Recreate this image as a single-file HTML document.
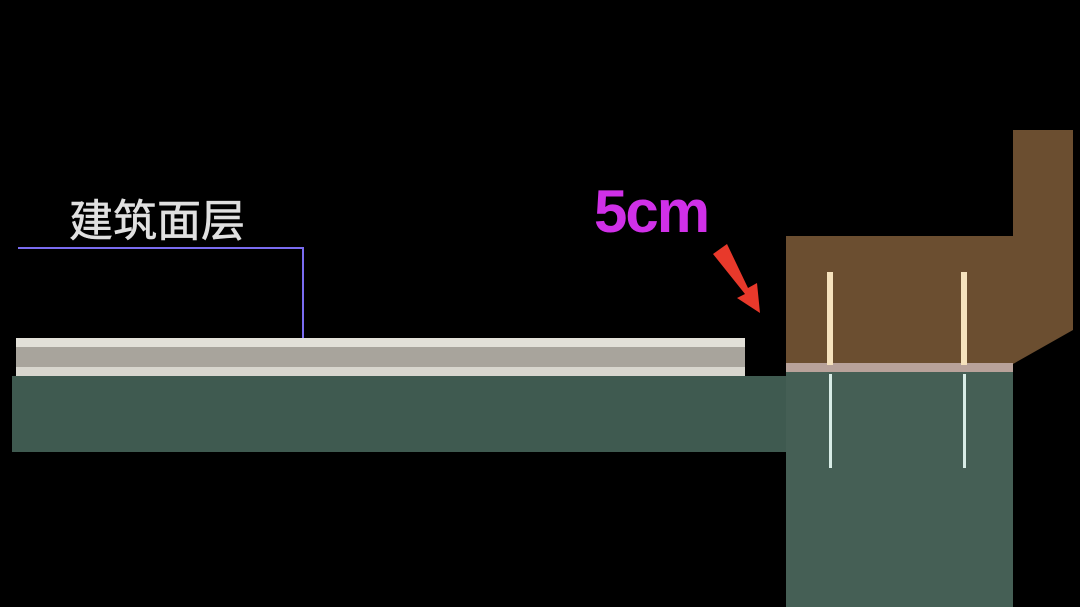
<!DOCTYPE html>
<html><head><meta charset="utf-8"><style>
body{margin:0;width:1080px;height:607px;background:#000;overflow:hidden;position:relative}
</style></head><body>
<svg width="1080" height="607" style="position:absolute;left:0;top:0">
<rect x="12" y="376" width="776" height="76" fill="#3f5a50"/>
<rect x="786" y="368" width="227" height="239" fill="#455f55"/>
<polygon points="786,236 1013,236 1013,130 1073,130 1073,330 1013,364 786,364" fill="#6b4e30"/>
<rect x="786" y="363" width="227" height="9" fill="#b8a29a"/>
<rect x="16" y="338" width="729" height="38" fill="#a8a49c"/>
<rect x="16" y="338" width="729" height="9" fill="#e2e0d8"/>
<rect x="16" y="367" width="729" height="9" fill="#d8d6ce"/>
<rect x="827" y="272" width="6" height="93" fill="#f6e2bd"/>
<rect x="961" y="272" width="6" height="93" fill="#f6e2bd"/>
<rect x="829" y="374" width="3" height="94" fill="#d8ece6"/>
<rect x="963" y="374" width="3" height="94" fill="#d8ece6"/>
<polyline points="18,248 303,248 303,338" fill="none" stroke="#7a6cf0" stroke-width="2"/>
<polygon points="713,254 727,244 748,288 757,283 760,313 737,298 745,294" fill="#e8392b"/>
<text x="69" y="236" font-family="Liberation Sans, Noto Sans CJK SC, sans-serif" font-size="44" fill="#e0e0e0" stroke="#e0e0e0" stroke-width="0.6">建筑面层</text>
<text x="594" y="232" font-family="Liberation Sans, sans-serif" font-weight="bold" font-size="60" fill="#d030e8" letter-spacing="-2">5cm</text>
</svg>
</body></html>
